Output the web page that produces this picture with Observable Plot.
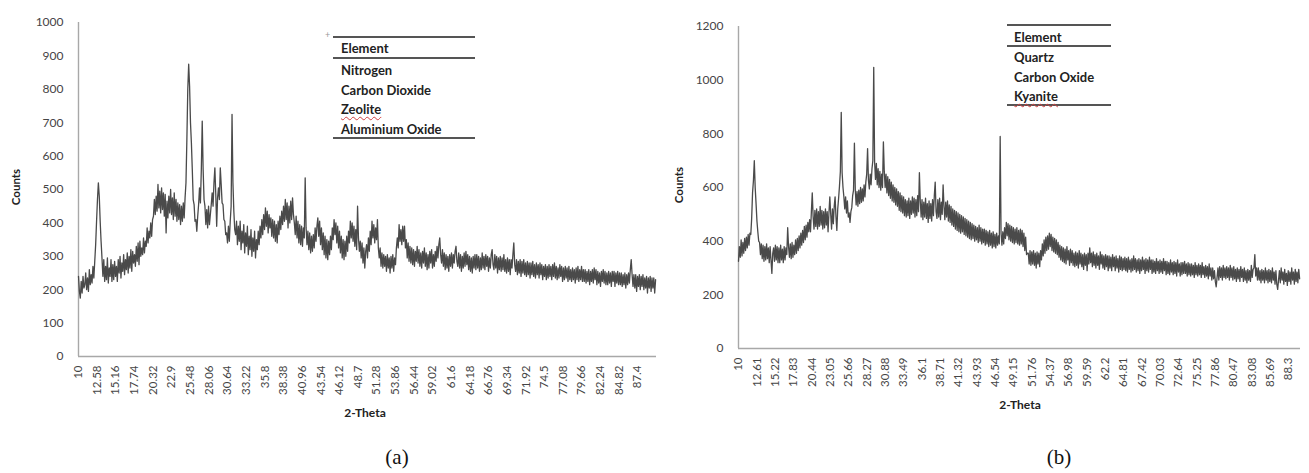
<!DOCTYPE html>
<html><head><meta charset="utf-8">
<script src="https://cdn.jsdelivr.net/npm/d3@7"></script>
<script src="https://cdn.jsdelivr.net/npm/@observablehq/plot@0.6"></script>
<style>
body{margin:0;background:#fff;width:1309px;height:473px;position:relative;overflow:hidden;font-family:Lato,sans-serif}
.abs{position:absolute}
.rule{position:absolute;height:2px;background:#555}
.lg{position:absolute;font:bold 13px Lato,sans-serif;color:#222;line-height:16px;white-space:nowrap}
.wavy{text-decoration:underline wavy #d04040;text-decoration-thickness:1px;text-underline-offset:2px}
.ttl{position:absolute;font:bold 11.5px Lato,sans-serif;color:#222;white-space:nowrap;transform:translate(-50%,-50%)}
.cap{position:absolute;font:21px "Liberation Serif","Times New Roman",serif;color:#111;transform:translate(-50%,-50%)}
</style></head><body>
<div id="pa" class="abs" style="left:0;top:0"></div>
<div id="pb" class="abs" style="left:660px;top:0"></div>
<script>
const thetaStart = 10;
const thetaStep = 0.125;

// Panel (a) counts, 10.000 .. 89.875 deg (one row = 5 deg)
const countsA = [
240,195,175,225,190,240,205,215,250,200,235,195,260,215,245,220,270,235,285,335,405,470,520,480,405,345,295,240,290,225,270,230,295,220,265,240,290,225,275,230,
285,240,270,225,290,250,300,235,280,255,305,245,290,260,310,250,300,265,320,255,315,280,305,270,330,285,340,275,345,300,325,305,355,310,345,330,385,340,375,355,
400,360,410,420,470,425,480,435,515,445,495,430,505,440,490,420,485,370,465,415,480,430,500,425,475,410,490,420,470,405,460,410,455,395,450,405,460,415,475,520,
650,800,875,810,700,640,560,470,455,405,410,375,420,455,505,460,560,705,560,470,450,395,440,385,450,395,425,455,490,450,520,565,485,390,475,505,470,565,515,460,
455,410,405,365,370,340,390,345,405,450,725,520,435,380,365,405,335,390,345,405,320,375,340,395,310,370,330,390,305,360,320,380,300,355,315,375,295,350,320,375,
335,390,355,410,365,425,380,445,390,435,370,425,385,415,360,410,355,405,345,395,340,405,365,420,380,435,395,450,405,470,410,460,385,450,400,465,410,475,425,400,
365,420,355,405,340,395,335,390,330,385,355,535,385,335,375,320,370,310,360,315,365,325,385,345,390,415,360,405,335,385,320,370,305,360,295,350,290,345,305,360,
320,385,350,410,365,400,340,390,325,375,310,360,295,350,290,345,300,360,315,375,340,405,355,400,345,390,330,380,320,450,355,315,345,295,340,280,325,265,315,335,
295,355,315,375,335,405,355,395,340,385,350,410,325,295,325,270,310,265,305,270,300,255,305,265,295,250,300,265,305,255,295,275,325,355,325,395,345,380,335,390,
345,390,325,350,295,340,285,330,280,325,275,320,270,315,285,330,280,320,270,310,265,315,280,325,270,310,260,305,265,315,280,320,265,305,270,315,285,330,295,335,
355,305,280,320,270,310,260,305,265,300,255,305,270,310,265,305,280,315,330,285,270,310,265,305,255,300,265,310,270,315,275,305,260,300,255,295,250,300,265,305,
260,305,265,300,255,295,260,310,265,300,260,305,270,300,255,295,265,305,320,275,260,305,265,300,250,295,260,300,255,295,260,305,255,290,250,295,255,290,245,290,
265,305,340,275,255,290,245,285,250,290,240,285,250,290,245,280,240,285,245,280,235,280,245,285,240,275,235,280,245,275,235,280,245,275,230,270,240,275,230,270,
235,275,240,270,230,275,240,280,235,270,230,265,235,275,240,270,225,265,230,270,235,265,225,270,230,260,225,265,230,260,220,265,230,270,225,260,230,270,225,260,
225,260,220,255,225,260,215,255,225,260,220,265,230,260,215,255,220,250,210,255,225,260,220,255,215,250,215,255,220,250,210,255,225,255,210,250,220,255,215,250,
215,250,210,245,215,250,205,245,215,250,220,260,290,245,210,245,205,245,195,240,210,245,200,240,210,245,200,235,205,240,190,235,205,240,195,235,205,235,190,230
];

// Panel (b) counts, 10.000 .. 89.875 deg (one row = 5 deg)
const countsB = [
325,380,340,405,345,395,355,410,365,415,375,425,385,430,425,485,580,625,700,600,540,475,435,400,395,350,390,335,385,325,380,330,390,335,375,320,380,330,280,355,
375,325,385,330,380,320,375,320,385,330,370,320,380,330,375,350,450,380,340,390,335,395,340,385,350,405,355,410,365,420,375,430,385,440,395,455,405,460,415,470,
435,480,435,510,580,490,445,515,455,520,445,510,455,530,460,515,445,510,450,520,460,510,435,505,565,500,445,520,465,530,565,490,440,520,560,605,660,880,655,600,
565,520,565,505,550,490,505,470,510,525,570,590,765,590,535,585,530,590,540,600,545,595,550,610,565,620,650,745,625,595,650,610,670,700,1048,695,630,690,610,670,
600,660,590,650,600,770,660,600,650,580,640,570,630,560,620,550,610,545,600,535,595,530,585,515,580,510,570,505,565,495,555,490,550,495,560,485,550,500,565,505,
560,490,555,495,570,510,655,550,490,555,480,545,490,560,485,540,470,550,485,540,475,555,495,570,620,510,485,555,490,560,480,545,500,610,530,480,545,490,550,475,
535,470,530,460,520,455,515,445,510,440,505,435,500,430,495,435,490,425,485,420,480,415,475,410,470,405,465,410,460,400,455,405,450,395,460,400,450,390,445,395,
445,385,440,390,435,380,440,385,430,375,435,380,425,375,430,385,420,390,790,430,385,435,390,450,410,470,420,465,405,460,400,455,395,450,390,445,395,450,390,440,
385,445,390,440,380,430,365,415,350,355,355,315,365,310,360,315,365,310,355,300,360,315,355,305,365,330,390,345,405,355,415,365,420,370,430,380,425,365,415,360,
410,355,405,350,395,340,385,330,380,325,375,320,370,315,380,330,365,310,370,320,365,310,355,305,360,310,355,300,365,315,355,305,350,295,355,310,350,290,355,315,
375,320,355,305,360,310,350,300,355,310,345,295,360,315,350,300,345,295,350,305,345,290,345,300,340,290,350,305,340,290,345,300,335,285,345,295,340,290,335,295,
340,290,335,285,340,295,330,285,335,290,345,295,335,285,330,290,335,280,330,290,340,295,330,280,335,290,330,285,340,295,330,280,330,285,325,280,335,290,325,280,
330,285,325,280,335,290,325,275,325,280,320,275,330,285,320,275,325,280,320,270,330,285,315,270,320,275,320,280,325,280,315,270,320,275,315,270,315,275,310,265,
320,275,310,270,315,275,310,265,320,275,305,265,310,270,305,260,315,270,300,255,300,260,290,250,230,265,300,255,305,265,300,255,310,265,300,260,305,265,300,255,
310,265,300,255,305,260,295,250,300,260,295,250,305,265,295,250,300,255,290,245,295,255,290,250,310,265,295,300,350,270,300,255,300,255,290,245,295,255,290,245,
300,255,290,245,295,250,290,245,300,255,285,240,290,240,220,255,290,245,300,255,285,240,295,250,280,235,290,250,285,240,300,255,285,240,295,250,285,245,295,260
];

// Category-axis tick labels
const labelsA = ["10","12.58","15.16","17.74","20.32","22.9","25.48","28.06","30.64","33.22","35.8","38.38","40.96","43.54","46.12","48.7","51.28","53.86","56.44","59.02","61.6","64.18","66.76","69.34","71.92","74.5","77.08","79.66","82.24","84.82","87.4"];
const labelsB = ["10","12.61","15.22","17.83","20.44","23.05","25.66","28.27","30.88","33.49","36.1","38.71","41.32","43.93","46.54","49.15","51.76","54.37","56.98","59.59","62.2","64.81","67.42","70.03","72.64","75.25","77.86","80.47","83.08","85.69","88.3"];
const yTicksA = [0,100,200,300,400,500,600,700,800,900,1000];
const yTicksB = [0,200,400,600,800,1000,1200];

function panel(counts, labels, yTicks, o) {
  const data = counts.map((c, i) => ({x: thetaStart + i * thetaStep, y: c}));
  const ticks = labels.map(Number);
  return Plot.plot({
    width: o.width, height: o.height,
    marginLeft: o.ml, marginRight: o.mr, marginTop: o.mt, marginBottom: o.mb,
    x: {domain: [10, 90]},
    y: {domain: [0, yTicks[yTicks.length - 1]]},
    style: {fontFamily: "Lato, sans-serif", color: "#454545", background: "white"},
    marks: [
      Plot.axisY({ticks: yTicks, tickFormat: d => String(d), tickSize: 0, tickPadding: 15, fontSize: 12, label: null}),
      Plot.axisX({ticks, tickFormat: d => labels[ticks.indexOf(d)], tickRotate: -90,
        tickSize: 0, tickPadding: 9, fontSize: 11.5, label: null}),
      Plot.ruleX([10], {stroke: "#a8a8a8", strokeWidth: 1.4}),
      Plot.ruleY([0], {stroke: "#a8a8a8", strokeWidth: 1.4}),
      Plot.line(data, {x: "x", y: "y", stroke: "#4a4a4a", strokeWidth: 1.3})
    ]
  });
}

document.getElementById("pa").append(panel(countsA, labelsA, yTicksA,
  {width: 660, height: 420, ml: 78, mr: 4, mt: 22, mb: 64}));
document.getElementById("pb").append(panel(countsB, labelsB, yTicksB,
  {width: 649, height: 420, ml: 78, mr: 9, mt: 26, mb: 72}));
</script>

<!-- legend table (a) -->
<div class="abs" style="left:325px;top:29px;font:9px Lato;color:#999">+</div>
<div class="rule" style="left:333px;top:36px;width:142px"></div>
<div class="rule" style="left:333px;top:57px;width:142px"></div>
<div class="rule" style="left:333px;top:137px;width:142px"></div>
<div class="lg" style="left:341px;top:40px">Element</div>
<div class="lg" style="left:341px;top:62px">Nitrogen</div>
<div class="lg" style="left:341px;top:82px">Carbon Dioxide</div>
<div class="lg" style="left:341px;top:101px"><span class="wavy">Zeolite</span></div>
<div class="lg" style="left:341px;top:121px">Aluminium Oxide</div>

<!-- legend table (b) -->
<div class="rule" style="left:1007px;top:24px;width:104px"></div>
<div class="rule" style="left:1007px;top:45px;width:104px"></div>
<div class="rule" style="left:1007px;top:104px;width:104px"></div>
<div class="lg" style="left:1014px;top:29px">Element</div>
<div class="lg" style="left:1014px;top:49px">Quartz</div>
<div class="lg" style="left:1014px;top:69px">Carbon Oxide</div>
<div class="lg" style="left:1014px;top:88px"><span class="wavy">Kyanite</span></div>

<!-- axis titles -->
<div class="ttl" style="left:15px;top:187px;transform:translate(-50%,-50%) rotate(-90deg)">Counts</div>
<div class="ttl" style="left:678px;top:185px;transform:translate(-50%,-50%) rotate(-90deg)">Counts</div>
<div class="ttl" style="left:365px;top:412px;font-size:12px">2-Theta</div>
<div class="ttl" style="left:1020px;top:404px;font-size:12px">2-Theta</div>

<!-- captions -->
<div class="cap" style="left:397px;top:457px">(a)</div>
<div class="cap" style="left:1059px;top:457px">(b)</div>
</body></html>
